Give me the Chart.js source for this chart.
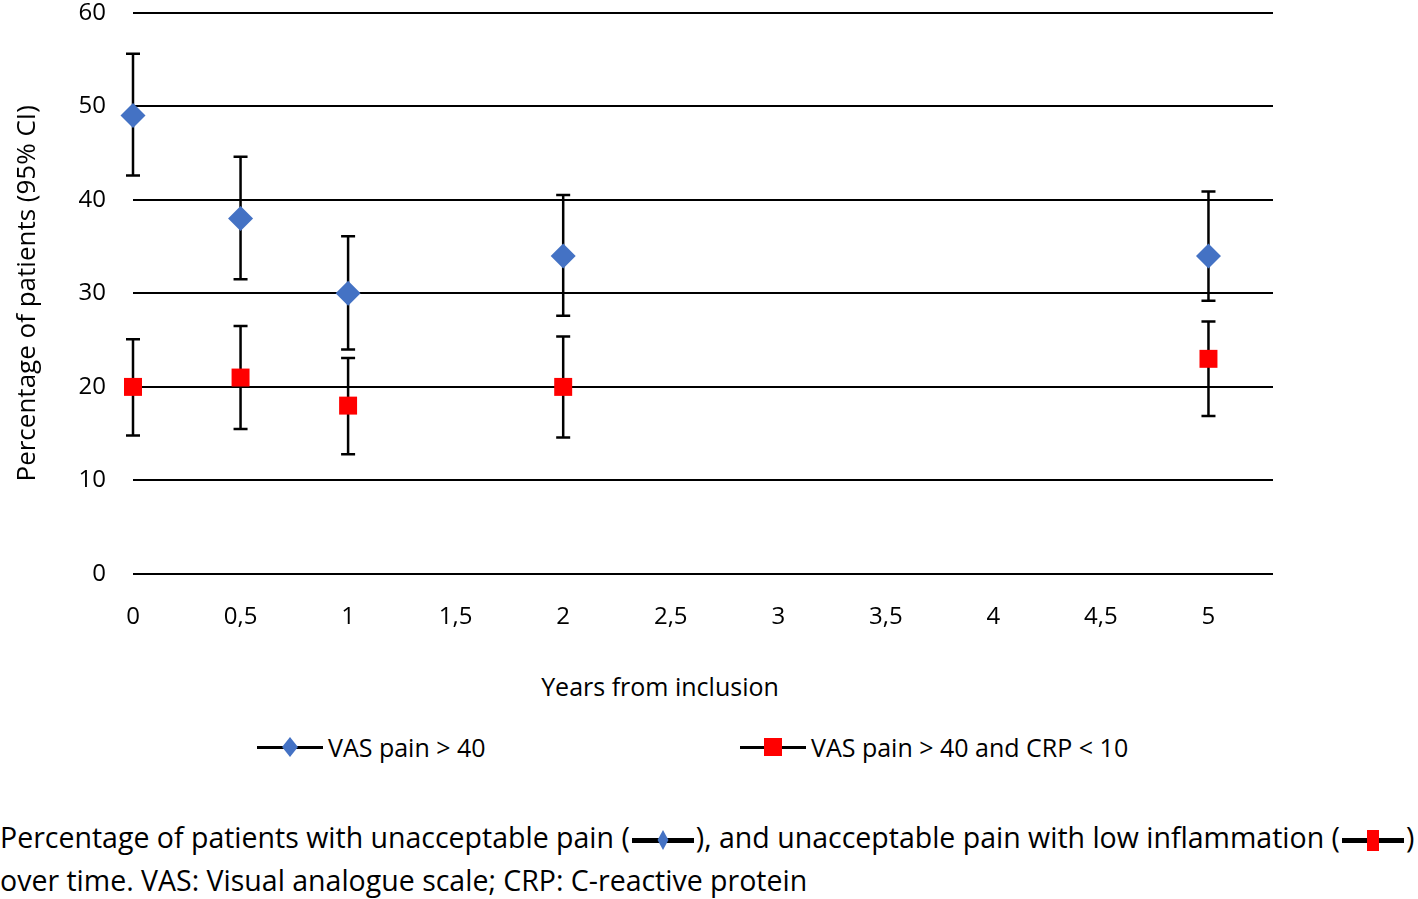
<!DOCTYPE html>
<html>
<head>
<meta charset="utf-8">
<script src="https://cdn.jsdelivr.net/npm/chart.js@4.4.1/dist/chart.umd.min.js"></script>
<style>
  body { margin: 0; background: #fff; width: 1418px; height: 899px; overflow: hidden; font-family: 'Open Sans', sans-serif; color: #000; }
  #wrap { position: absolute; left: 0; top: 0; width: 1418px; height: 650px; }
  .xtitle { position: absolute; left: 460px; width: 400px; top: 669px; line-height: 34px; font-size: 25px; text-align: center; }
  .leg { position: absolute; top: 731px; height: 32px; line-height: 32px; font-size: 25px; white-space: nowrap; }
  .leg .key { position: absolute; left: 0; top: 0; width: 66px; height: 32px; }
  .leg .txt { position: absolute; left: 71px; top: 0; }
  .key::before { content: ''; position: absolute; left: 0; right: 0; top: 14.5px; height: 3px; background: #000; }
  .dia { position: absolute; left: 26px; top: 9px; width: 14px; height: 14px; background: #4472c4; transform: scaleX(0.8) rotate(45deg); }
  .sq { position: absolute; left: 24px; top: 7px; width: 18px; height: 18px; background: #ff0000; }
  .caption { position: absolute; left: 0; top: 816px; font-size: 28.5px; line-height: 43px; white-space: nowrap; }
  .ikey { display: inline-block; position: relative; width: 66px; height: 24px; vertical-align: -4px; }
  .ikey::before { content: ''; position: absolute; left: 2px; right: 2px; top: 10px; height: 5px; background: #000; }
  .ikey .dia { left: 26px; top: 5px; width: 14px; height: 14px; transform: scaleX(0.55) rotate(45deg); }
  .ikey .sq { left: 27px; top: 2px; width: 12px; height: 21px; }
</style>
</head>
<body>
<div id="wrap"><canvas id="chart"></canvas></div>
<div class="xtitle">Years from inclusion</div>
<div class="leg" style="left:257px"><span class="key"><span class="dia"></span></span><span class="txt">VAS pain &gt; 40</span></div>
<div class="leg" style="left:740px"><span class="key"><span class="sq"></span></span><span class="txt">VAS pain &gt; 40 and CRP &lt; 10</span></div>
<div class="caption">Percentage of patients with unacceptable pain (<span class="ikey"><span class="dia"></span></span>), and unacceptable pain with low inflammation (<span class="ikey"><span class="sq"></span></span>)<br>over time. VAS: Visual analogue scale; CRP: C-reactive protein</div>
<script>
const YEARS = [0, 0.5, 1, 2, 5];
const X_TICKS = [0, 0.5, 1, 1.5, 2, 2.5, 3, 3.5, 4, 4.5, 5];

const PAIN = [49, 38, 30, 34, 34];
const PAIN_LO = [42.6, 31.5, 24, 27.6, 29.2];
const PAIN_HI = [55.6, 44.6, 36.1, 40.5, 40.9];

const LOWCRP = [20, 21, 18, 20, 23];
const LOWCRP_LO = [14.8, 15.5, 12.8, 14.6, 16.9];
const LOWCRP_HI = [25.1, 26.5, 23.1, 25.4, 27];

Chart.defaults.font.family = "'Open Sans', sans-serif";
Chart.defaults.color = '#000';

const points = (ys) => YEARS.map((x, i) => ({ x, y: ys[i] }));

// 95% CI whiskers, drawn under the markers
const errorBars = {
    id: 'errorBars',
    beforeDatasetsDraw(chart) {
        const { ctx, scales: { x, y } } = chart;
        ctx.save();
        ctx.strokeStyle = '#000';
        ctx.lineWidth = 2.5;
        chart.data.datasets.forEach(ds => {
            ds.lo.forEach((lo, i) => {
                const px = x.getPixelForValue(ds.data[i].x);
                const yl = y.getPixelForValue(lo);
                const yh = y.getPixelForValue(ds.hi[i]);
                ctx.beginPath();
                ctx.moveTo(px, yl); ctx.lineTo(px, yh);
                ctx.moveTo(px - 7, yl); ctx.lineTo(px + 7, yl);
                ctx.moveTo(px - 7, yh); ctx.lineTo(px + 7, yh);
                ctx.stroke();
            });
        });
        ctx.restore();
    }
};

new Chart(document.getElementById('chart'), {
    type: 'scatter',
    data: {
        datasets: [
            {
                label: 'VAS pain > 40',
                data: points(PAIN), lo: PAIN_LO, hi: PAIN_HI,
                pointStyle: 'rectRot', pointRadius: 12.5,
                backgroundColor: '#4472c4', borderColor: '#4472c4', borderWidth: 0,
                clip: false,
            },
            {
                label: 'VAS pain > 40 and CRP < 10',
                data: points(LOWCRP), lo: LOWCRP_LO, hi: LOWCRP_HI,
                pointStyle: 'rect', pointRadius: 12.7,
                backgroundColor: '#ff0000', borderColor: '#ff0000', borderWidth: 0,
                clip: false,
            },
        ],
    },
    options: {
        responsive: true,
        maintainAspectRatio: false,
        animation: false,
        layout: { padding: { left: 0, right: 145, top: 12, bottom: 0 } },
        plugins: { legend: { display: false }, tooltip: { enabled: false } },
        scales: {
            x: {
                type: 'linear', min: 0, max: 5.3,
                afterBuildTicks: s => { s.ticks = X_TICKS.map(v => ({ value: v })); },
                afterFit: s => { s.height = 76; s.paddingLeft = 0; s.paddingRight = 0; },
                grid: { display: false },
                border: { display: false },
                ticks: {
                    padding: 21, font: { size: 24 },
                    callback: v => String(v).replace('.', ','),
                },
            },
            y: {
                min: 0, max: 60,
                afterFit: s => { s.width = 133; s.paddingTop = 0; s.paddingBottom = 0; },
                grid: { color: '#000', lineWidth: 2, drawTicks: false },
                border: { display: false },
                ticks: { stepSize: 10, padding: 27, font: { size: 24 } },
                title: {
                    display: true, text: 'Percentage of patients (95% CI)',
                    font: { size: 26 }, padding: { top: 12, bottom: 0 },
                },
            },
        },
    },
    plugins: [errorBars],
});
</script>
</body>
</html>
